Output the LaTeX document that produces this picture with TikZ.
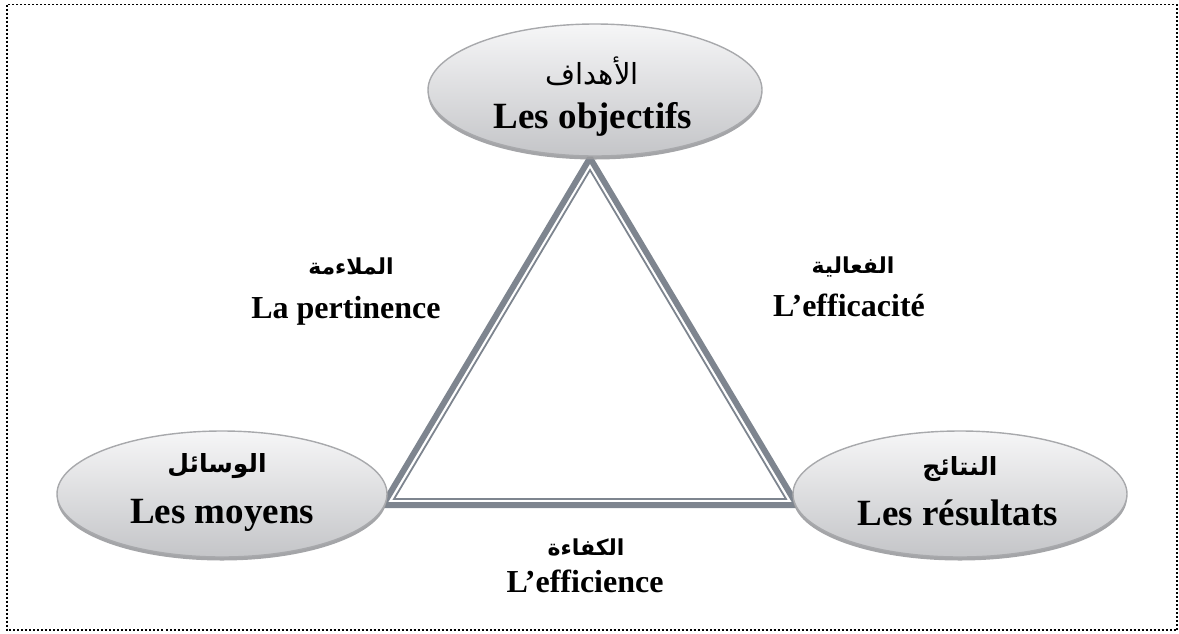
\documentclass[tikz,border=0pt]{standalone}
\usepackage{fontspec}
\setmainfont{Liberation Serif}
\newfontfamily\arabicfont[Script=Arabic]{DejaVu Sans}
\TeXXeTstate=1
\usetikzlibrary{shapes.geometric,shadows}

\definecolor{edgegray}{HTML}{7E858F}
\definecolor{bubbletop}{HTML}{F6F6F7}
\definecolor{bubblebot}{HTML}{C4C5C8}
\definecolor{bubbleline}{HTML}{A8A9AC}
\definecolor{bubbleshade}{HTML}{9A9B9E}

\tikzset{
  frameline/.style={draw=black, line width=1.8pt, dash pattern=on 2pt off 2pt},
  outerside/.style={draw=edgegray, line width=6pt, line join=miter},
  innerside/.style={draw=edgegray, line width=1.8pt, line join=miter},
  bubble/.style={ellipse, inner sep=0pt, draw=bubbleline, line width=1.4pt,
    top color=bubbletop, bottom color=bubblebot,
    drop shadow={shadow xshift=0pt, shadow yshift=-3.5pt, fill=bubbleshade, opacity=0.9}},
  bigfr/.style={font=\fontsize{37}{40}\selectfont\bfseries, inner sep=0pt, anchor=base},
  midfr/.style={font=\fontsize{32}{36}\selectfont\bfseries, inner sep=0pt, anchor=base},
  bigar/.style={font=\fontsize{25}{30}\selectfont\arabicfont\bfseries, inner sep=0pt},
  topar/.style={font=\fontsize{29}{32}\selectfont\arabicfont, inner sep=0pt},
  midar/.style={font=\fontsize{22}{26}\selectfont\arabicfont\bfseries, inner sep=0pt},
}

\begin{document}
\begin{tikzpicture}[x=1pt, y=-1pt]
  \useasboundingbox (0,0) rectangle (1179,633);

  % dotted frame
  \draw[frameline] (7,4.5) rectangle (1177,630);

  % triangle corners (outer thick line and inner thin line)
  \coordinate (A) at (590,158);
  \coordinate (B) at (383,505);
  \coordinate (C) at (797,505);
  \coordinate (Ai) at (590,170);
  \coordinate (Bi) at (394,499);
  \coordinate (Ci) at (786,499);
  \draw[outerside] (A) -- (B) -- (C) -- cycle;
  \draw[innerside] (Ai) -- (Bi) -- (Ci) -- cycle;

  % the three bubbles
  \node[bubble, minimum width=334pt, minimum height=132pt] (obj) at (595,90) {};
  \node[bubble, minimum width=330pt, minimum height=126pt] (moy) at (222,494) {};
  \node[bubble, minimum width=334pt, minimum height=126pt] (res) at (960,494) {};

  % bubble texts
  \node[topar] (objar) at (592,71) {\beginR الأهداف\endR};
  \node[bigfr] (objfr) at (593,128) {Les objectifs};
  \node[bigar] (moyar) at (217,466) {\beginR الوسائل\endR};
  \node[bigfr] (moyfr) at (222,523) {Les moyens};
  \node[bigar] (resar) at (960,469) {\beginR النتائج\endR};
  \node[bigfr] (resfr) at (958,525) {Les résultats};

  % side labels
  \node[midar] (pertar) at (351,266) {\beginR الملاءمة\endR};
  \node[midfr] (pertfr) at (346,318) {La pertinence};
  \node[midar] (effar) at (853,267) {\beginR الفعالية\endR};
  \node[midfr] (efffr) at (849,316) {L’efficacité};
  \node[midar] (ficar) at (586,547) {\beginR الكفاءة\endR};
  \node[midfr] (ficfr) at (585,592) {L’efficience};
\end{tikzpicture}
\end{document}
